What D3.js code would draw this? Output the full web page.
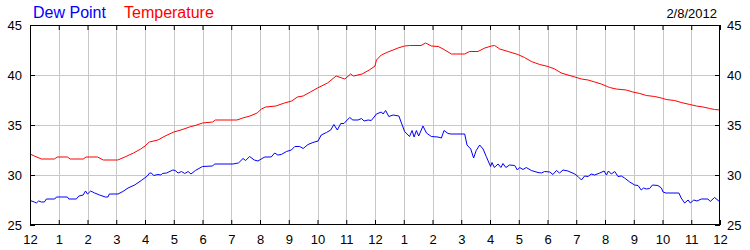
<!DOCTYPE html>
<html>
<head>
<meta charset="utf-8">
<script src="https://cdn.jsdelivr.net/npm/d3@7"></script>
<style>
html,body{margin:0;padding:0;background:#fff;}
svg{display:block;font-family:"Liberation Sans",Arial,sans-serif;}
</style>
</head>
<body>
<svg id="chart" width="750" height="250"></svg>
<script>
// ---- data (hours since midnight, °F) ----
const xTickLabels = ["12","1","2","3","4","5","6","7","8","9","10","11","12","1","2","3","4","5","6","7","8","9","10","11","12"];
const yTicks = [25, 30, 35, 40, 45];
const dateLabel = "2/8/2012";
const seriesNames = ["Dew Point", "Temperature"];

const tempHours = [0,0.15,0.4,0.85,0.95,1.3,1.4,1.85,1.95,2.35,2.55,3.05,3.3,3.6,3.85,4,4.15,4.45,4.7,5,5.25,5.55,5.8,6,6.35,6.45,7.2,7.4,7.65,7.9,8.05,8.2,8.55,8.85,9.1,9.3,9.5,9.75,10,10.35,10.65,10.95,11.15,11.25,11.55,11.8,12,12.05,12.22,12.45,12.63,12.8,13.03,13.2,13.6,13.76,13.96,14.2,14.37,14.66,15.12,15.29,15.58,15.82,16.05,16.16,16.34,16.63,16.97,17.2,17.44,17.73,18.02,18.25,18.48,18.71,18.95,19.18,19.41,19.64,19.87,20.08,20.16,20.39,20.74,20.97,21.21,21.44,21.73,21.96,22.13,22.42,22.65,22.95,23.18,23.41,23.64,23.81,24];
const tempValues = [32.1,31.9,31.6,31.6,31.8,31.8,31.6,31.6,31.8,31.8,31.5,31.5,31.8,32.2,32.6,32.9,33.3,33.5,33.9,34.3,34.5,34.8,35.0,35.2,35.3,35.5,35.5,35.7,35.9,36.2,36.6,36.8,36.9,37.2,37.4,37.8,37.9,38.3,38.7,39.2,39.9,39.6,40.1,39.9,40.1,40.5,40.9,41.5,42.0,42.3,42.5,42.7,42.9,42.95,42.95,43.2,42.9,42.85,42.6,42.1,42.1,42.35,42.35,42.7,42.9,42.95,42.6,42.35,42.05,41.75,41.35,41.05,40.85,40.6,40.2,40.0,39.8,39.6,39.5,39.3,39.1,38.85,38.75,38.6,38.5,38.3,38.15,37.95,37.85,37.7,37.55,37.45,37.25,37.05,36.9,36.8,36.65,36.55,36.5];

const dewHours = [0,0.15,0.22,0.3,0.4,0.5,0.57,0.86,0.92,1.3,1.35,1.61,1.7,1.85,1.93,2,2.11,2.25,2.42,2.62,2.71,2.76,3.06,3.23,3.41,3.64,3.87,4.08,4.16,4.22,4.3,4.45,4.55,4.6,4.75,4.97,5.05,5.15,5.27,5.38,5.5,5.6,5.75,6,6.35,6.42,7.06,7.25,7.41,7.5,7.64,7.8,7.93,8.1,8.17,8.39,8.51,8.62,8.74,8.92,9.09,9.21,9.38,9.5,9.67,9.84,10.02,10.13,10.31,10.46,10.57,10.69,10.81,10.92,11,11.12,11.23,11.41,11.53,11.62,11.76,11.87,11.97,12.05,12.22,12.28,12.37,12.48,12.63,12.83,12.92,13.03,13.2,13.29,13.36,13.44,13.52,13.67,13.79,13.96,14.19,14.31,14.4,14.54,14.65,15.12,15.2,15.33,15.43,15.52,15.64,15.76,15.87,16.02,16.07,16.15,16.28,16.38,16.45,16.55,16.68,16.86,16.95,17.03,17.15,17.26,17.44,17.67,17.79,17.9,18.08,18.19,18.31,18.42,18.54,18.71,18.95,19.06,19.18,19.29,19.41,19.52,19.64,19.82,19.97,20.05,20.12,20.22,20.34,20.45,20.57,20.68,20.86,21.03,21.15,21.26,21.34,21.44,21.55,21.65,21.84,21.96,22.02,22.12,22.57,22.65,22.77,22.89,22.97,23.09,23.2,23.35,23.58,23.66,23.81,24];
const dewValues = [27.45,27.3,27.2,27.4,27.3,27.3,27.6,27.6,27.8,27.8,27.6,27.6,27.9,28.0,28.4,28.1,28.4,28.2,28.0,27.8,27.8,28.1,28.1,28.35,28.7,29.0,29.45,29.9,30.2,30.2,29.95,30.05,30.0,30.15,30.2,30.5,30.45,30.2,30.35,30.15,30.35,30.1,30.45,30.85,30.9,31.1,31.1,31.2,31.65,31.45,31.85,31.5,31.4,31.7,31.8,31.8,32.2,32.0,32.05,32.35,32.5,32.85,32.85,32.65,33.05,33.25,33.4,34.0,34.25,34.5,35.05,34.5,35.15,35.15,35.4,35.75,35.5,35.5,35.65,35.4,35.5,35.45,35.8,36.1,36.3,36.1,36.45,35.85,36.0,35.9,35.2,34.35,33.85,34.45,33.8,34.45,33.9,34.9,34.2,33.85,33.8,33.7,34.45,34.15,34.1,34.1,33.0,32.6,31.7,32.45,33.0,32.6,31.85,30.85,31.25,30.75,31.1,30.75,31.15,30.75,31.0,30.95,30.5,30.75,30.55,30.75,30.45,30.25,30.2,30.35,30.3,30.05,30.45,30.2,30.5,30.4,30.1,29.85,29.5,29.9,29.85,30.1,30.0,30.2,30.4,30.0,30.4,30.1,30.35,29.85,29.9,29.7,29.3,29.0,28.95,28.5,28.7,28.6,28.65,29.0,28.95,28.7,28.3,28.2,28.2,27.7,27.2,27.5,27.2,27.5,27.4,27.6,27.6,27.35,27.75,27.3];

// ---- layout ----
const svg = d3.select("#chart");
const L = 30, R = 720, T = 25, B = 225;
const x = d3.scaleLinear().domain([0, 24]).range([L, R]);
const y = d3.scaleLinear().domain([25, 45]).range([B, T]);
const tickHours = d3.range(0, 25);

svg.append("rect").attr("x",0).attr("y",0).attr("width",750).attr("height",250).attr("fill","#fff");

// grid
const grid = svg.append("g").attr("stroke","#c8c8c8").attr("stroke-width",1).attr("shape-rendering","crispEdges");
tickHours.slice(1,-1).forEach(h => {
  grid.append("line").attr("x1",Math.round(x(h))+0.5).attr("x2",Math.round(x(h))+0.5).attr("y1",T).attr("y2",B);
});
yTicks.slice(1,-1).forEach(v => {
  grid.append("line").attr("x1",L).attr("x2",R).attr("y1",Math.round(y(v))+0.5).attr("y2",Math.round(y(v))+0.5);
});

// axes (inward ticks, labels)
const fmtX = (d,i) => xTickLabels[i];
const axB = d3.axisBottom(x).tickValues(tickHours).tickFormat(fmtX).tickSize(-5).tickPadding(10);
const axT = d3.axisTop(x).tickValues(tickHours).tickFormat("").tickSize(-5);
const axL = d3.axisLeft(y).tickValues(yTicks).tickSize(-5).tickPadding(8);
const axR = d3.axisRight(y).tickValues(yTicks).tickSize(-5).tickPadding(7);

function styleAxis(g){
  g.selectAll(".domain").remove();
  g.selectAll("line").attr("stroke","#000");
  g.selectAll("text").attr("fill","#000").attr("font-size","13px").attr("font-family","Liberation Sans, Arial, sans-serif");
}
svg.append("g").attr("transform",`translate(0,${B})`).call(axB).call(styleAxis);
svg.append("g").attr("transform",`translate(0,${T})`).call(axT).call(styleAxis);
svg.append("g").attr("transform",`translate(${L},0)`).call(axL).call(styleAxis);
svg.append("g").attr("transform",`translate(${R},0)`).call(axR).call(styleAxis);

// lines
const line = d3.line().x(d => x(d[0])).y(d => y(d[1]));
const clip = svg.append("clipPath").attr("id","clip").append("rect").attr("x",L).attr("y",T).attr("width",R-L).attr("height",B-T);
svg.append("path").datum(d3.zip(dewHours, dewValues)).attr("d", line)
  .attr("fill","none").attr("stroke","#0000ff").attr("stroke-width",1).attr("clip-path","url(#clip)");
svg.append("path").datum(d3.zip(tempHours, tempValues)).attr("d", line)
  .attr("fill","none").attr("stroke","#ff0000").attr("stroke-width",1).attr("clip-path","url(#clip)");

// frame
svg.append("rect").attr("x",L+0.5).attr("y",T+0.5).attr("width",R-L-1).attr("height",B-T-1)
  .attr("fill","none").attr("stroke","#000").attr("stroke-width",1).attr("shape-rendering","crispEdges");

// legend / title
svg.append("text").attr("x",33).attr("y",18).attr("font-size","16px").attr("fill","#0000ff").text(seriesNames[0]);
svg.append("text").attr("x",124).attr("y",18).attr("font-size","16px").attr("fill","#ff0000").text(seriesNames[1]);
svg.append("text").attr("x",717).attr("y",18).attr("font-size","13px").attr("fill","#000").attr("text-anchor","end").text(dateLabel);
</script>
</body>
</html>
